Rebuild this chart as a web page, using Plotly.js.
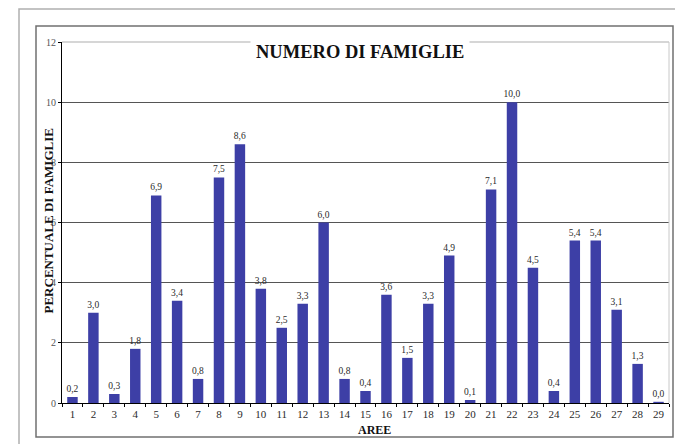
<!DOCTYPE html>
<html>
<head>
<meta charset="utf-8">
<script src="https://cdn.plot.ly/plotly-3.0.1.min.js"></script>
<style>html,body{margin:0;padding:0;background:#fff;}#chart{width:675px;height:444px;}</style>
</head>
<body>
<div id="chart"></div>
<script>
const aree = ['1','2','3','4','5','6','7','8','9','10','11','12','13','14','15','16','17','18','19','20','21','22','23','24','25','26','27','28','29'];
const percentuale = [0.2,3.0,0.3,1.8,6.9,3.4,0.8,7.5,8.6,3.8,2.5,3.3,6.0,0.8,0.4,3.6,1.5,3.3,4.9,0.1,7.1,10.0,4.5,0.4,5.4,5.4,3.1,1.3,0.04];
const yTicks = [0,2,4,6,8,10,12];

const serif = '"Liberation Serif", "DejaVu Serif", serif';

function px(p){ return (p-62)/607; }
function py(q){ return (403-q)/361; }

const trace = {
  type: 'bar',
  x: aree,
  y: percentuale,
  marker: {color: '#3D3FA6', line: {width: 0}},
  texttemplate: '%{y:.1f}',
  textposition: 'outside',
  constraintext: 'none',
  cliponaxis: false,
  textfont: {family: serif, size: 9.5, color: '#2a2a2a'},
  hoverinfo: 'x+y'
};

const layout = {
  width: 675, height: 444,
  margin: {l: 62, r: 6, t: 42, b: 41},
  paper_bgcolor: '#fff', plot_bgcolor: '#fff',
  separators: ',.',
  showlegend: false,
  bargap: 0.5,
  font: {family: serif, color: '#333'},
  xaxis: {
    type: 'category',
    tickson: 'boundaries',
    ticks: 'outside', ticklen: 3, tickcolor: '#000', tickwidth: 1,
    showline: true, linecolor: '#000', linewidth: 1,
    showgrid: false, zeroline: false,
    ticklabelstandoff: 1,
    tickfont: {family: serif, size: 11, color: '#2a2a2a'},
    range: [-0.5, 28.5]
  },
  yaxis: {
    range: [0, 12],
    tickvals: yTicks,
    ticktext: yTicks.map(String),
    ticks: 'outside', ticklen: 3, tickcolor: '#000', tickwidth: 1,
    showline: true, linecolor: '#000', linewidth: 1,
    showgrid: true, gridcolor: '#555', gridwidth: 1,
    zeroline: false,
    tickfont: {family: serif, size: 10, color: '#555'}
  },
  shapes: [
    {type: 'rect', xref: 'paper', yref: 'paper', x0: px(19), x1: px(690), y0: py(460), y1: py(9), line: {color: '#b0b0b0', width: 1.5}, fillcolor: 'rgba(0,0,0,0)', layer: 'below'},
    {type: 'rect', xref: 'paper', yref: 'paper', x0: px(36), x1: px(673), y0: py(437), y1: py(26), line: {color: '#707070', width: 1.5}, fillcolor: 'rgba(0,0,0,0)', layer: 'below'},
    {type: 'line', xref: 'paper', yref: 'paper', x0: 0, x1: 1, y0: 1, y1: 1, line: {color: '#c8c8c8', width: 1.5}, layer: 'above'},
    {type: 'line', xref: 'paper', yref: 'paper', x0: 1, x1: 1, y0: 0, y1: 1, line: {color: '#c8c8c8', width: 1}, layer: 'above'}
  ],
  annotations: [
    {text: '<b>NUMERO DI FAMIGLIE</b>', xref: 'paper', yref: 'paper', x: px(360), y: py(52), xanchor: 'center', yanchor: 'middle', showarrow: false, bgcolor: '#fff', borderpad: 5, font: {family: serif, size: 18.5, color: '#111'}},
    {text: '<b>PERCENTUALE DI FAMIGLIE</b>', xref: 'paper', yref: 'paper', x: px(47.5), y: py(221), xanchor: 'center', yanchor: 'middle', textangle: -90, showarrow: false, font: {family: serif, size: 13, color: '#111'}},
    {text: '<b>AREE</b>', xref: 'paper', yref: 'paper', x: px(374), y: py(429.5), xanchor: 'center', yanchor: 'middle', showarrow: false, font: {family: serif, size: 12, color: '#111'}}
  ]
};

Plotly.newPlot('chart', [trace], layout, {displayModeBar: false, staticPlot: true});
</script>
</body>
</html>
